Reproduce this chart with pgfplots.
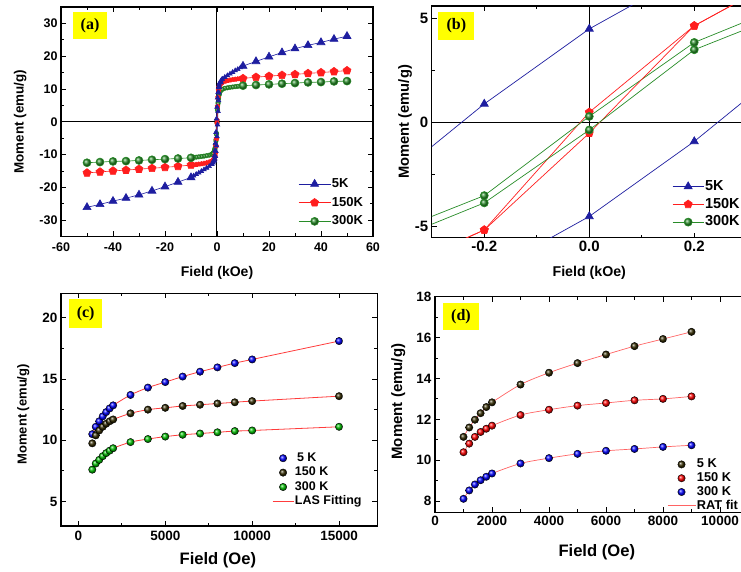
\documentclass[border=0pt]{standalone}
\usepackage{fontspec}
\setmainfont{Liberation Sans}
\newfontfamily\timesfont{Liberation Serif}
\usepackage{pgfplots}
\pgfplotsset{compat=1.18}
\usepackage{pgfplotstable}

\definecolor{cblue}{RGB}{30,30,160}
\definecolor{cred}{RGB}{255,30,30}
\definecolor{cgreen}{RGB}{40,140,40}
\definecolor{fitred}{RGB}{255,60,60}
\definecolor{cdark}{RGB}{50,42,0}
\definecolor{labyellow}{RGB}{255,255,0}

\newcommand{\fs}[1]{\fontsize{#1}{#1}\selectfont}

% ---------- panel (a)/(b) data ----------
\pgfplotstableread{
H M
10 17.0
15 18.4
20 19.8
25 21.1
30 22.3
35 23.3
40 24.2
45 25.2
50 26.1
}\spAp
\pgfplotstableread{
H M
-10 -17.0
-15 -18.4
-20 -19.8
-25 -21.1
-30 -22.3
-35 -23.3
-40 -24.2
-45 -25.2
-50 -26.1
}\spAn
\pgfplotstableread{
H M
10 13.2
15 13.6
20 13.9
25 14.2
30 14.45
35 14.75
40 15.0
45 15.3
50 15.6
}\spBp
\pgfplotstableread{
H M
-10 -13.2
-15 -13.6
-20 -13.9
-25 -14.2
-30 -14.45
-35 -14.75
-40 -15.0
-45 -15.3
-50 -15.6
}\spBn
\pgfplotstableread{
H M
10 11.0
15 11.2
20 11.4
25 11.6
30 11.8
35 12.0
40 12.1
45 12.3
50 12.4
}\spCp
\pgfplotstableread{
H M
-10 -11.0
-15 -11.2
-20 -11.4
-25 -11.6
-30 -11.8
-35 -12.0
-40 -12.1
-45 -12.3
-50 -12.5
}\spCn

\pgfplotstableread{
H M
10 17.0
9 16.5
8 16.0
7 15.6
6 15.1
5 14.6
4 14.1
3 13.6
2 13.0
1.5 12.5
1 11.9
0.8 11.3
0.6 10.5
0.4 9.0
0.2 7.3
0 4.5
-0.2 0.9
-0.4 -3.2
-0.6 -6.5
-0.8 -8.8
-1 -10.4
-1.5 -12.0
-2 -13.0
-3 -13.6
-4 -14.1
-5 -14.6
-6 -15.1
-7 -15.6
-8 -16.0
-9 -16.5
-10 -17.0
}\descA
\pgfplotstableread{
H M
-2 -13.0
-1.5 -12.5
-1 -11.9
-0.8 -11.3
-0.6 -10.5
-0.4 -9.0
-0.2 -7.3
0 -4.5
0.2 -0.9
0.4 3.2
0.6 6.5
0.8 8.8
1 10.4
1.5 12.0
2 13.0
}\ascA
\pgfplotstableread{
H M
10 13.2
9 13.15
8 13.05
7 12.95
6 12.85
5 12.7
4 12.55
3 12.3
2 12.0
1.5 11.7
1 11.2
0.8 10.6
0.6 9.5
0.4 7.4
0.2 4.65
0 0.5
-0.2 -5.15
-0.4 -7.4
-0.6 -9.5
-0.8 -10.6
-1 -11.2
-1.5 -11.7
-2 -12.0
-3 -12.3
-4 -12.55
-5 -12.7
-6 -12.85
-7 -12.95
-8 -13.05
-9 -13.15
-10 -13.2
}\descB
\pgfplotstableread{
H M
-2 -12.0
-1.5 -11.7
-1 -11.2
-0.8 -10.6
-0.6 -9.5
-0.4 -7.4
-0.2 -5.15
0 -0.5
0.2 4.65
0.4 7.4
0.6 9.5
0.8 10.6
1 11.2
1.5 11.7
2 12.0
}\ascB
\pgfplotstableread{
H M
10 11.0
9 10.9
8 10.8
7 10.7
6 10.6
5 10.5
4 10.35
3 10.2
2 9.9
1.5 9.6
1 9.0
0.8 8.4
0.6 7.4
0.4 5.9
0.2 3.85
0 0.3
-0.2 -3.5
-0.4 -5.5
-0.6 -7.0
-0.8 -8.1
-1 -8.8
-1.5 -9.5
-2 -9.9
-3 -10.2
-4 -10.35
-5 -10.5
-6 -10.6
-7 -10.7
-8 -10.8
-9 -10.9
-10 -11.0
}\descC
\pgfplotstableread{
H M
-2 -9.9
-1.5 -9.6
-1 -9.0
-0.8 -8.4
-0.6 -7.4
-0.4 -5.9
-0.2 -3.85
0 -0.35
0.2 3.5
0.4 5.5
0.6 7.0
0.8 8.1
1 8.8
1.5 9.5
2 9.9
}\ascC

% ---------- panel (c) data ----------
\pgfplotstableread{
H A B C
800 10.5 9.75 7.6
1000 11.1 10.4 8.1
1200 11.55 10.8 8.4
1400 11.95 11.1 8.7
1600 12.3 11.35 8.95
1800 12.6 11.55 9.15
2000 12.85 11.7 9.35
3000 13.7 12.2 9.85
4000 14.3 12.5 10.1
5000 14.75 12.65 10.3
6000 15.2 12.8 10.45
7000 15.6 12.9 10.55
8000 15.95 13.0 10.65
9000 16.3 13.1 10.75
10000 16.6 13.2 10.8
15000 18.1 13.6 11.1
}\tabC

% ---------- panel (d) data ----------
\pgfplotstableread{
H A B C
1000 11.14 10.39 8.11
1200 11.6 10.81 8.52
1400 11.98 11.14 8.81
1600 12.3 11.38 9.02
1800 12.6 11.54 9.19
2000 12.83 11.69 9.35
3000 13.7 12.21 9.84
4000 14.28 12.47 10.1
5000 14.75 12.67 10.31
6000 15.17 12.8 10.46
7000 15.58 12.93 10.55
8000 15.93 13.0 10.65
9000 16.28 13.12 10.73
}\tabD

\pgfplotsset{
  panel/.style={
    scale only axis,
    anchor=south west,
    axis line style={line width=1.1pt},
    tick style={black, line width=0.8pt},
    major tick length=5pt, minor tick length=3pt,
    tick align=inside,
    /pgf/number format/assume math mode=true,
    /pgf/number format/1000 sep={},
    scaled ticks=false,
    legend cell align=left,
  },
  gball/.style={mark=ball, mark options={ball color=cgreen}},
}
\tikzset{plabel/.style={fill=labyellow, inner sep=0pt, font=\timesfont\bfseries\fs{16}}}

\begin{document}
\begin{tikzpicture}
\useasboundingbox (0pt,0pt) rectangle (741pt,572pt);
\clip (0pt,0pt) rectangle (741pt,572pt);

% ================= (a) =================
\begin{axis}[panel,
  at={(61pt,335.5pt)}, width=312pt, height=229.5pt,
  xmin=-60, xmax=60, ymin=-35, ymax=35,
  xtick distance=20, ytick distance=10, minor tick num=1,
  tick label style={font=\bfseries\fs{12.5}},
  x tick label style={yshift=-3pt},
  xlabel={Field (kOe)}, ylabel={Moment (emu/g)},
  xlabel style={font=\bfseries\fs{14}, at={(axis description cs:0.5,-0.159)}, anchor=center},
  ylabel style={font=\bfseries\fs{13.4}, at={(axis description cs:-0.131,0.5)}, anchor=center},
  legend style={at={(axis description cs:0.76,0.258)}, anchor=north west, draw=none, fill=none,
    inner sep=0pt, font=\bfseries\fs{13}, row sep=5.7pt,
    nodes={inner sep=0pt, inner xsep=1pt, text height=10pt, text depth=3pt}},
  legend image code/.code={\draw[mark repeat=2,mark phase=2] plot coordinates {(0pt,0pt)(16pt,0pt)(32pt,0pt)};},
]
\addplot[black, line width=1pt, forget plot] coordinates {(0,-35) (0,35)};
\addplot[black, line width=1pt, forget plot] coordinates {(-60,0) (60,0)};

\addplot[cgreen, line width=0.6pt, gball, mark size=2.2pt, forget plot] table {\descC};
\addplot[cgreen, line width=0.6pt, gball, mark size=2.2pt, forget plot] table {\ascC};
\addplot[cred, line width=0.6pt, mark=pentagon*, mark size=2.4pt, forget plot] table {\descB};
\addplot[cred, line width=0.6pt, mark=pentagon*, mark size=2.4pt, forget plot] table {\ascB};
\addplot[cblue, line width=0.6pt, mark=triangle*, mark size=2.6pt, forget plot] table {\descA};
\addplot[cblue, line width=0.6pt, mark=triangle*, mark size=2.6pt, forget plot] table {\ascA};

\addplot[cblue, line width=0.6pt, mark=triangle*, mark size=4.6pt] table {\spAp};
\addlegendentry{5K}
\addplot[cred, line width=0.6pt, mark=pentagon*, mark size=4.2pt] table {\spBp};
\addlegendentry{150K}
\addplot[cgreen, line width=0.6pt, gball, mark size=4pt] table {\spCp};
\addlegendentry{300K}
\addplot[cblue, line width=0.6pt, mark=triangle*, mark size=4.6pt, forget plot] table {\spAn};
\addplot[cred, line width=0.6pt, mark=pentagon*, mark size=4.2pt, forget plot] table {\spBn};
\addplot[cgreen, line width=0.6pt, gball, mark size=4pt, forget plot] table {\spCn};

\node[plabel, minimum width=34.6pt, minimum height=27.6pt] at (rel axis cs:0.093,0.919) {(a)};
\end{axis}

% ================= (b) =================
\begin{axis}[panel,
  at={(431.7pt,334.3pt)}, width=315pt, height=231.7pt,
  xmin=-0.3, xmax=0.3, ymin=-5.52, ymax=5.6,
  xtick={-0.2,0,0.2}, minor xtick={-0.3,-0.1,0.1,0.3},
  ytick={-5,0,5}, minor ytick={-2.5,2.5},
  clip marker paths=true,
  tick label style={font=\bfseries\fs{15}},
  x tick label style={/pgf/number format/.cd, fixed, fixed zerofill, precision=1},
  xlabel={Field (kOe)}, ylabel={Moment (emu/g)},
  xlabel style={font=\bfseries\fs{14.2}, at={(axis description cs:0.5,-0.152)}, anchor=center},
  ylabel style={font=\bfseries\fs{14.7}, at={(axis description cs:-0.085,0.5)}, anchor=center},
  legend style={at={(axis description cs:0.763,0.253)}, anchor=north west, draw=none, fill=none,
    inner sep=0pt, font=\bfseries\fs{14.5}, row sep=3.3pt,
    nodes={inner sep=0pt, inner xsep=1pt, text height=11pt, text depth=3.5pt}},
  legend image code/.code={\draw[mark repeat=2,mark phase=2] plot coordinates {(0pt,0pt)(15.5pt,0pt)(31pt,0pt)};},
]
\addplot[black, line width=1pt, forget plot] coordinates {(0,-6) (0,6)};
\addplot[black, line width=1pt, forget plot] coordinates {(-0.3,0) (0.3,0)};

\addplot[cblue, line width=0.7pt, mark=triangle*, mark size=4.6pt] table {\descA};
\addlegendentry{5K}
\addplot[cred, line width=0.7pt, mark=pentagon*, mark size=4.2pt] table {\descB};
\addlegendentry{150K}
\addplot[cgreen, line width=0.7pt, gball, mark size=4pt] table {\descC};
\addlegendentry{300K}
\addplot[cblue, line width=0.7pt, mark=triangle*, mark size=4.6pt, forget plot] table {\ascA};
\addplot[cred, line width=0.7pt, mark=pentagon*, mark size=4.2pt, forget plot] table {\ascB};
\addplot[cgreen, line width=0.7pt, gball, mark size=4pt, forget plot] table {\ascC};

\node[plabel, minimum width=35.7pt, minimum height=28.3pt] at (rel axis cs:0.078,0.914) {(b)};
\end{axis}

% ================= (c) =================
\begin{axis}[panel,
  at={(61pt,46pt)}, width=316.3pt, height=232.7pt,
  xmin=-1000, xmax=17200, ymin=3, ymax=22,
  xtick distance=5000, ytick distance=5, minor tick num=1,
  tick label style={font=\bfseries\fs{13.5}},
  x tick label style={yshift=-2pt},
  xlabel={Field (Oe)}, ylabel={Moment (emu/g)},
  xlabel style={font=\bfseries\fs{16.6}, at={(axis description cs:0.496,-0.146)}, anchor=center},
  ylabel style={font=\bfseries\fs{13}, at={(axis description cs:-0.119,0.48)}, anchor=center},
  legend style={at={(axis description cs:0.667,0.319)}, anchor=north west, draw=none, fill=none,
    inner sep=0pt, font=\bfseries\fs{12.5}, row sep=1.9pt,
    nodes={inner sep=0pt, inner xsep=1pt, text height=9.5pt, text depth=3pt}},
  legend image code/.code={\draw[mark repeat=2,mark phase=2] plot coordinates {(0pt,0pt)(10.5pt,0pt)(21pt,0pt)};},
]
\addplot[fitred, line width=0.8pt, smooth, forget plot] table[x=H, y=A] {\tabC};
\addplot[fitred, line width=0.8pt, smooth, forget plot, restrict x to domain=900:16000] table[x=H, y=B] {\tabC};
\addplot[fitred, line width=0.8pt, smooth, forget plot] table[x=H, y=C] {\tabC};

\addplot[only marks, mark=ball, mark options={ball color=blue}, mark size=3.7pt] table[x=H, y=A] {\tabC};
\addlegendentry{\,5 K}
\addplot[only marks, mark=ball, mark options={ball color=cdark}, mark size=3.7pt] table[x=H, y=B] {\tabC};
\addlegendentry{150 K}
\addplot[only marks, mark=ball, mark options={ball color=green!75!black}, mark size=3.7pt] table[x=H, y=C] {\tabC};
\addlegendentry{300 K}
\addlegendimage{fitred, line width=0.8pt}
\addlegendentry{LAS Fitting}

\node[plabel, minimum width=33.3pt, minimum height=29.3pt] at (rel axis cs:0.078,0.912) {(c)};
\end{axis}

% ================= (d) =================
\begin{axis}[panel,
  at={(435pt,59.7pt)}, width=313.5pt, height=215.6pt,
  xmin=0, xmax=11000, ymin=7.45, ymax=18,
  xtick distance=2000, ytick distance=2, minor tick num=1,
  tick label style={font=\bfseries\fs{13.5}},
  xlabel={Field (Oe)}, ylabel={Moment (emu/g)},
  xlabel style={font=\bfseries\fs{16.6}, at={(axis description cs:0.516,-0.183)}, anchor=center},
  ylabel style={font=\bfseries\fs{15}, at={(axis description cs:-0.117,0.513)}, anchor=center},
  legend style={at={(axis description cs:0.740,0.252)}, anchor=north west, draw=none, fill=none,
    inner sep=0pt, font=\bfseries\fs{12.8}, row sep=1.3pt,
    nodes={inner sep=0pt, inner xsep=1pt, text height=9.5pt, text depth=3pt}},
  legend image code/.code={\draw[mark repeat=2,mark phase=2] plot coordinates {(0pt,0pt)(14pt,0pt)(28pt,0pt)};},
]
\addplot[fitred!80, line width=0.7pt, smooth, forget plot] table[x=H, y=A] {\tabD};
\addplot[fitred!80, line width=0.7pt, smooth, forget plot] table[x=H, y=B] {\tabD};
\addplot[fitred!80, line width=0.7pt, smooth, forget plot] table[x=H, y=C] {\tabD};

\addplot[only marks, mark=ball, mark options={ball color=cdark}, mark size=3.7pt] table[x=H, y=A] {\tabD};
\addlegendentry{5 K}
\addplot[only marks, mark=ball, mark options={ball color=red}, mark size=3.7pt] table[x=H, y=B] {\tabD};
\addlegendentry{150 K}
\addplot[only marks, mark=ball, mark options={ball color=blue}, mark size=3.7pt] table[x=H, y=C] {\tabD};
\addlegendentry{300 K}
\addlegendimage{fitred!80, line width=0.7pt}
\addlegendentry{RAT fit}

\node[plabel, minimum width=36.6pt, minimum height=26.7pt] at (rel axis cs:0.083,0.907) {(d)};
\end{axis}
\end{tikzpicture}
\end{document}
